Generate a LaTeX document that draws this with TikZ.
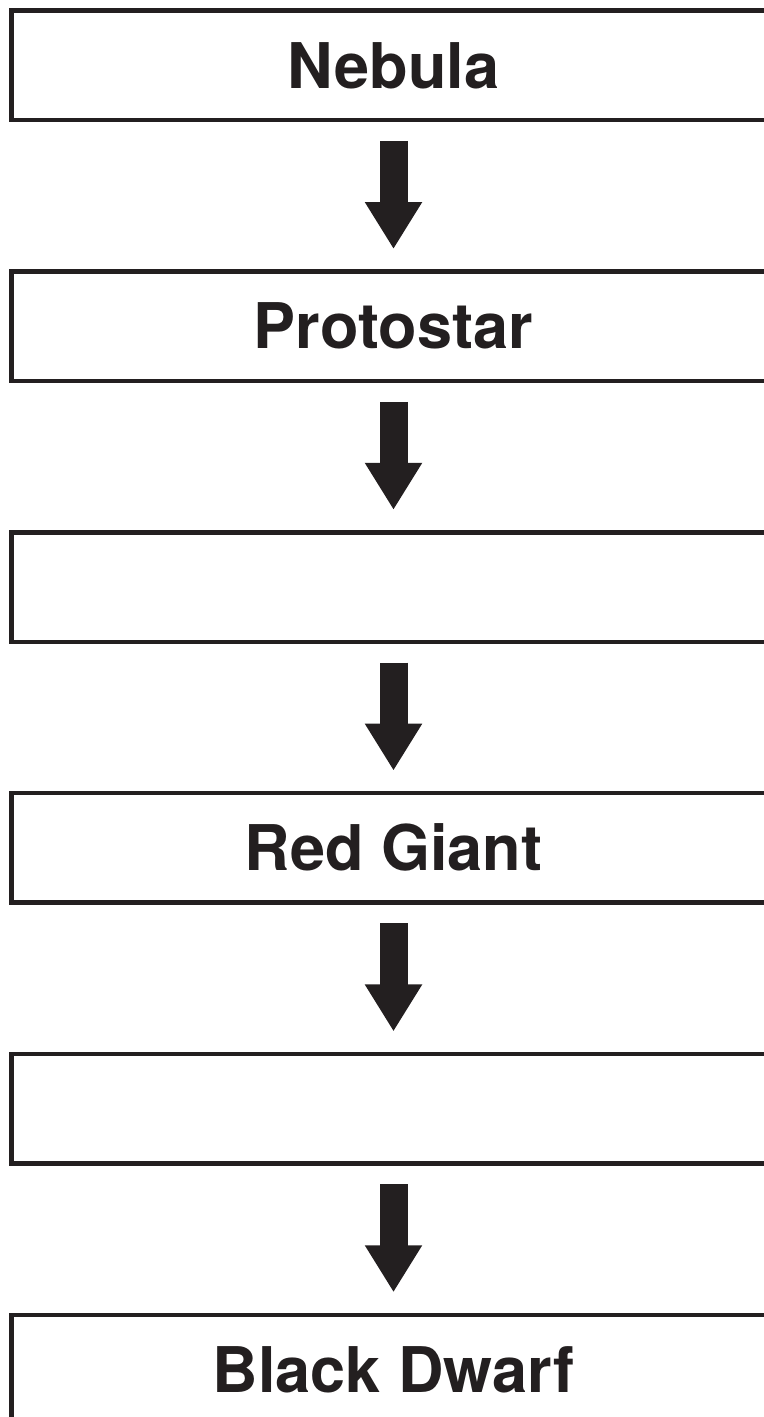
\documentclass[tikz,border=0pt]{standalone}
\usepackage{fontspec}
\setmainfont{TeX Gyre Heros}
\usepackage{tikz}
\usetikzlibrary{arrows.meta}
\definecolor{ink}{RGB}{35,31,32}

\tikzset{
	stage/.style = {draw = ink, line width = 4.5bp, minimum width = 764bp, minimum height = 109.5bp,
		inner sep = 0pt, outer sep = 0pt, align = center, text = ink,
		font = \fontsize{63bp}{70bp}\selectfont\bfseries},
	flow/.style = {ink, line width = 28bp, -{Triangle[width = 54bp, length = 47bp]},
		shorten < = 20.75bp, shorten > = 22.5bp}
}

\begin{document}
\begin{tikzpicture}[x = 1bp, y = 1bp]
	\useasboundingbox (0,0) rectangle (763,-1417);
	\node [stage] (nebula) at (393.5,-65.5) {Nebula};
	\node [stage] (proto) at (393.5,-326.3) {Protostar};
	\node [stage] (main) at (393.5,-587.1) {};
	\node [stage] (giant) at (393.5,-847.9) {Red Giant};
	\node [stage] (white) at (393.5,-1108.7) {};
	\node [stage] (dwarf) at (393.5,-1369.5) {Black Dwarf};

	\draw [flow] (nebula) -- (proto);
	\draw [flow] (proto) -- (main);
	\draw [flow] (main) -- (giant);
	\draw [flow] (giant) -- (white);
	\draw [flow] (white) -- (dwarf);
\end{tikzpicture}
\end{document}
